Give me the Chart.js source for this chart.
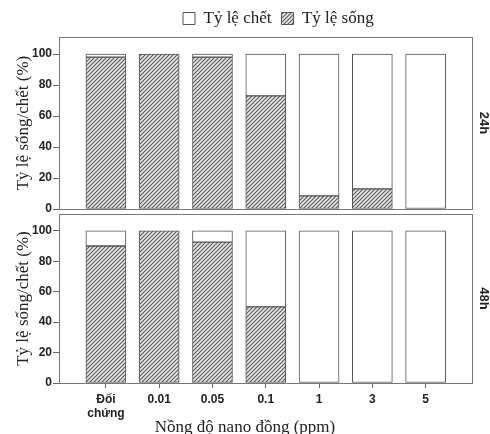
<!DOCTYPE html>
<html>
<head>
<meta charset="utf-8">
<script src="https://cdn.jsdelivr.net/npm/chart.js@4"></script>
<style>
  html, body { margin: 0; padding: 0; background: #fff; }
  #wrap { position: relative; width: 490px; height: 434px; overflow: hidden; }
  canvas { position: absolute; left: 0; }
  #c1 { top: 0; }
  #c2 { top: 212px; }
</style>
</head>
<body>
<div id="wrap">
  <canvas id="c2" width="490" height="222"></canvas>
  <canvas id="c1" width="490" height="218"></canvas>
</div>
<script>
const categories = [['Đối', 'chứng'], '0.01', '0.05', '0.1', '1', '3', '5'];
const survive24 = [98, 100, 98, 73, 8.5, 13, 0];
const dead24 = [2, 0, 2, 27, 91.5, 87, 100];
const survive48 = [90, 100, 92.5, 50, 0, 0, 0];
const dead48 = [10, 0, 7.5, 50, 100, 100, 100];
const yTicks = [0, 20, 40, 60, 80, 100];
const seriesNames = ['Tỷ lệ sống', 'Tỷ lệ chết'];
const panelLabels = ['24h', '48h'];
const yTitle = 'Tỷ lệ sống/chết (%)';
const xTitle = 'Nồng độ nano đồng (ppm)';

function makeHatch() {
  const c = document.createElement('canvas');
  c.width = 4; c.height = 4;
  const g = c.getContext('2d');
  g.fillStyle = '#e6e6e6';
  g.fillRect(0, 0, 4, 4);
  g.strokeStyle = '#5a5a5a';
  g.lineWidth = 1.1;
  g.beginPath();
  g.moveTo(-1, 5); g.lineTo(5, -1);
  g.moveTo(-1, 1); g.lineTo(1, -1);
  g.moveTo(3, 5); g.lineTo(5, 3);
  g.stroke();
  return g.createPattern(c, 'repeat');
}
const hatch = makeHatch();

const SERIF = "'Liberation Serif', 'DejaVu Serif', serif";
const SANS = "'Liberation Sans', Arial, sans-serif";

const framePlugin = {
  id: 'frame',
  afterDatasetsDraw(chart) {
    const a = chart.chartArea, ctx = chart.ctx;
    ctx.save();
    ctx.strokeStyle = '#777';
    ctx.lineWidth = 1;
    ctx.strokeRect(Math.round(a.left) + 0.5, Math.round(a.top) + 0.5, Math.round(a.right - a.left), Math.round(a.bottom - a.top));
    ctx.restore();
  }
};

function facetPlugin(label) {
  return {
    id: 'facet',
    afterDraw(chart) {
      const a = chart.chartArea, ctx = chart.ctx;
      ctx.save();
      ctx.translate(484, (a.top + a.bottom) / 2);
      ctx.rotate(Math.PI / 2);
      ctx.font = 'bold 13px ' + SANS;
      ctx.fillStyle = '#222';
      ctx.textAlign = 'center';
      ctx.textBaseline = 'middle';
      ctx.fillText(label, 0, 0);
      ctx.restore();
    }
  };
}

const xTitlePlugin = {
  id: 'xTitleFig',
  afterDraw(chart) {
    const ctx = chart.ctx;
    ctx.save();
    ctx.font = '17px ' + SERIF;
    ctx.fillStyle = '#222';
    ctx.textAlign = 'center';
    ctx.textBaseline = 'alphabetic';
    ctx.fillText(xTitle, chart.width / 2, 220);
    ctx.restore();
  }
};

const legendShift = {
  id: 'legendShift',
  afterLayout(chart) {
    const lg = chart.legend;
    if (!lg || !lg.lineWidths) return;
    const pad = lg.options.labels.padding;
    const start = (lg.left + pad + lg.right - lg.lineWidths[0]) / 2;
    const dx = 183 - start;
    lg.left += dx; lg.right += dx;
  }
};

function datasets(surv, dead) {
  return [
    {
      label: seriesNames[0],
      data: surv.map((v, i) => ({ x: i, y: v })),
      backgroundColor: hatch,
      borderColor: '#555',
      borderWidth: 1,
      borderSkipped: false,
      barThickness: 40
    },
    {
      label: seriesNames[1],
      data: dead.map((v, i) => ({ x: i, y: v })),
      backgroundColor: '#ffffff',
      borderColor: '#555',
      borderWidth: 1,
      borderSkipped: false,
      barThickness: 40
    }
  ];
}

function yScale() {
  return {
    stacked: true,
    min: 0,
    max: 111,
    afterBuildTicks(s) { s.ticks = yTicks.map(v => ({ value: v })); },
    afterFit(s) { s.width = 50; s.paddingTop = 0; s.paddingBottom = 0; },
    ticks: { font: { family: SANS, size: 12, weight: 'bold' }, color: '#222', padding: 1 },
    grid: { drawOnChartArea: false, tickLength: 6, color: '#666' },
    border: { display: true, color: '#777' },
    title: { display: true, text: yTitle, font: { family: SERIF, size: 17 }, color: '#222', padding: { top: 4, bottom: 4 } }
  };
}

Chart.defaults.animation = false;

new Chart(document.getElementById('c1'), {
  type: 'bar',
  data: { datasets: datasets(survive24, dead24) },
  options: {
    responsive: false,
    animation: false,
    layout: { padding: { left: 9, right: 18, top: 0, bottom: 9 } },
    plugins: {
      legend: {
        display: true,
        position: 'top',
        reverse: true,
        labels: {
          font: { family: SERIF, size: 17 },
          color: '#222',
          boxWidth: 12,
          boxHeight: 12,
          padding: 10
        }
      },
      tooltip: { enabled: false }
    },
    scales: {
      x: { type: 'linear', display: false, stacked: true, offset: false, grid: { offset: false }, min: -0.88, max: 6.87 },
      y: yScale()
    }
  },
  plugins: [framePlugin, facetPlugin(panelLabels[0]), legendShift]
});

new Chart(document.getElementById('c2'), {
  type: 'bar',
  data: { datasets: datasets(survive48, dead48) },
  options: {
    responsive: false,
    animation: false,
    layout: { padding: { left: 9, right: 18, top: 2, bottom: 0 } },
    plugins: { legend: { display: false }, tooltip: { enabled: false } },
    scales: {
      x: {
        type: 'linear',
        stacked: true,
        offset: false,
        min: -0.88,
        max: 6.87,
        afterBuildTicks(s) { s.ticks = categories.map((c, i) => ({ value: i })); },
        afterFit(s) { s.height = 51; s.paddingLeft = 0; s.paddingRight = 0; },
        ticks: {
          callback: (v) => categories[Math.round(v)],
          font: { family: SANS, size: 12, weight: 'bold', lineHeight: 1.2 },
          color: '#222',
          maxRotation: 0,
          autoSkip: false,
          padding: 4
        },
        grid: { drawOnChartArea: false, tickLength: 5, color: '#666', offset: false },
        border: { display: true, color: '#777' },
        title: { display: false }
      },
      y: yScale()
    }
  },
  plugins: [framePlugin, facetPlugin(panelLabels[1]), xTitlePlugin]
});
</script>
</body>
</html>
